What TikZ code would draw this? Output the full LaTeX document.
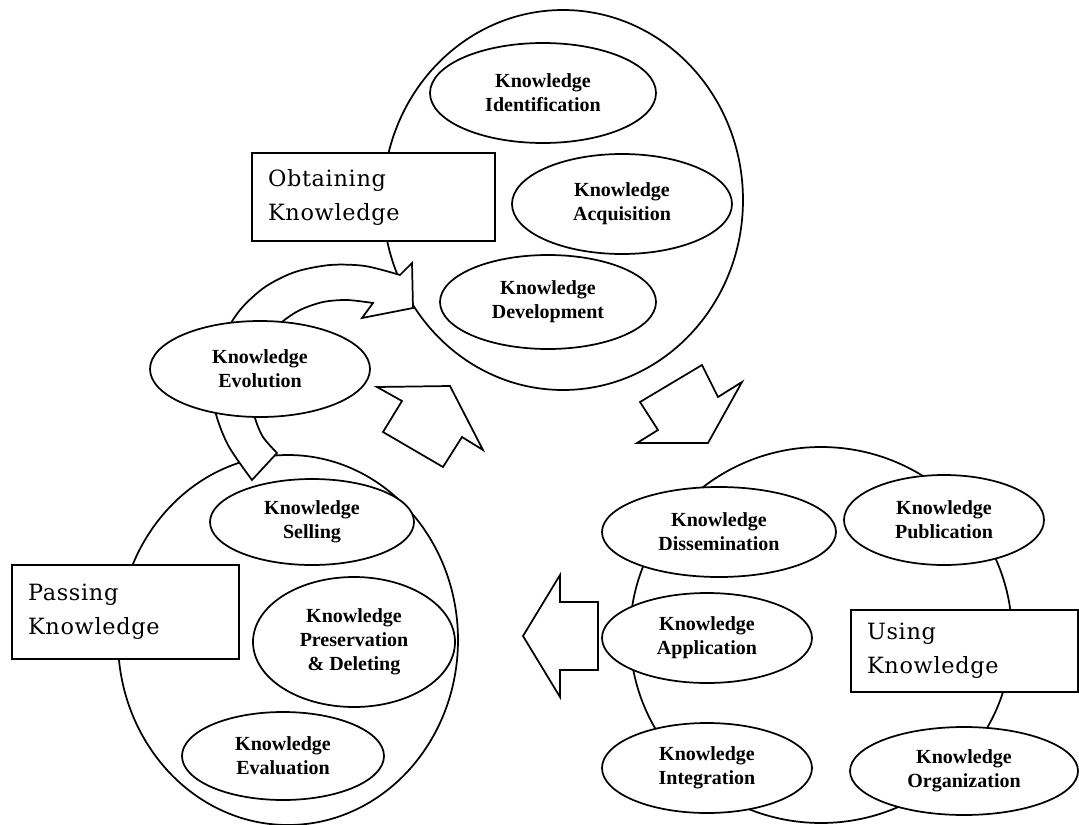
\documentclass[tikz,border=0pt]{standalone}
\usepackage{fontspec}
\setmainfont{Liberation Serif}
\newfontfamily\boxfont[LetterSpace=3.0]{DejaVu Serif}
\usetikzlibrary{shapes.geometric}
\begin{document}
\begin{tikzpicture}[x=0.75pt,y=-0.75pt,
  line width=1.3pt,
  bigcirc/.style={draw, ellipse, inner sep=0pt, outer sep=0pt},
  elnode/.style={draw, fill=white, ellipse, inner sep=0pt, outer sep=0pt, align=center,
    font=\bfseries\fontsize{15}{18}\selectfont},
  labelbox/.style={draw, fill=white, rectangle, inner xsep=12pt, inner ysep=0pt, outer sep=0pt,
    align=left, font=\boxfont\fontsize{16.8}{25.5}\selectfont},
  blockarrow/.style={draw, fill=white, line join=miter}]
\useasboundingbox (0,0) rectangle (1079,825);

% big circles
\node[bigcirc, minimum width=270pt, minimum height=285pt] (obtain) at (563,200) {};
\node[bigcirc, minimum width=255pt, minimum height=277.5pt] (pass) at (288,640) {};
\node[bigcirc, minimum width=286.5pt, minimum height=282pt] (use) at (821,635) {};

% straight block arrows
\draw[blockarrow] (377,387) -- (450,386) -- (483,450) -- (462,437) -- (443,467) -- (383,432) -- (402,401) -- cycle;
\draw[blockarrow] (702,365) -- (718,397) -- (742,382) -- (708,443) -- (637,443) -- (658,430) -- (640,402) -- cycle;
\draw[blockarrow] (523,636) -- (560,575) -- (560,602) -- (598,602) -- (598,670) -- (560,670) -- (560,697) -- cycle;

% curved block arrow (evolution)
\draw[blockarrow] plot[smooth] coordinates {(252,480) (228,445) (215,410) (214,375) (222,340) (240,310) (265,287) (295,272) (330,265) (365,266) (400,275)}
  -- (412,263) -- (413,308) -- (362,318)
  -- plot[smooth] coordinates {(373,303) (347,300) (323,302) (300,310) (282,322) (265,340) (255,370) (253,400) (255,418) (263,437) (277,453)}
  -- cycle;

% small ellipses
\node[elnode, minimum width=169.5pt, minimum height=75pt] (ident) at (543,93) {Knowledge\\Identification};
\node[elnode, minimum width=165pt, minimum height=75pt] (acq) at (622,204) {Knowledge\\Acquisition};
\node[elnode, minimum width=162pt, minimum height=70.5pt] (dev) at (548,302) {Knowledge\\Development};
\node[elnode, minimum width=165pt, minimum height=72pt] (evol) at (260,369) {Knowledge\\Evolution};
\node[elnode, minimum width=153pt, minimum height=64.5pt] (sell) at (312,522) {Knowledge\\Selling};
\node[elnode, minimum width=151.5pt, minimum height=97.5pt] (pres) at (354,642) {Knowledge\\Preservation\\\& Deleting};
\node[elnode, minimum width=151.5pt, minimum height=66pt] (eval) at (283,756) {Knowledge\\Evaluation};
\node[elnode, minimum width=175.5pt, minimum height=67.5pt] (diss) at (719,532) {Knowledge\\Dissemination};
\node[elnode, minimum width=150pt, minimum height=67.5pt] (publ) at (944,520) {Knowledge\\Publication};
\node[elnode, minimum width=157.5pt, minimum height=67.5pt] (appl) at (707,638) {Knowledge\\Application};
\node[elnode, minimum width=157.5pt, minimum height=67.5pt] (integ) at (707,768) {Knowledge\\Integration};
\node[elnode, minimum width=171pt, minimum height=66pt] (org) at (964,771) {Knowledge\\Organization};

% label boxes
\node[labelbox, text width=158.25pt, minimum height=66pt] (obtainlbl) at (373.5,197) {Obtaining\\Knowledge};
\node[labelbox, text width=146.25pt, minimum height=70.5pt] (passlbl) at (125.5,612) {Passing\\Knowledge};
\node[labelbox, text width=146.25pt, minimum height=61.5pt] (uselbl) at (964.5,651) {Using\\Knowledge};
\end{tikzpicture}
\end{document}
